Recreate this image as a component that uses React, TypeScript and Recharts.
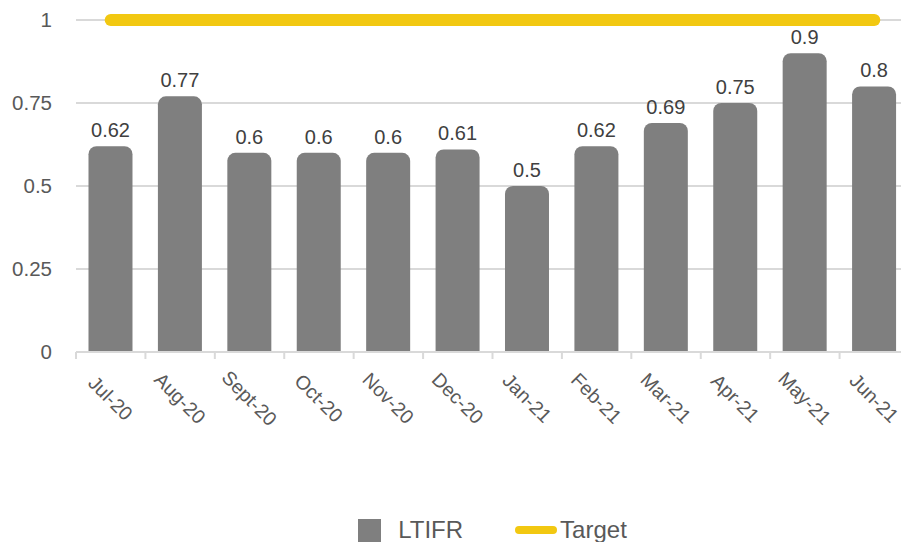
import { ComposedChart, Bar, Line, XAxis, YAxis, CartesianGrid, Legend, LabelList } from 'recharts';

const months = ['Jul-20', 'Aug-20', 'Sept-20', 'Oct-20', 'Nov-20', 'Dec-20', 'Jan-21', 'Feb-21', 'Mar-21', 'Apr-21', 'May-21', 'Jun-21'];
const ltifr = [0.62, 0.77, 0.6, 0.6, 0.6, 0.61, 0.5, 0.62, 0.69, 0.75, 0.9, 0.8];
const target = [1, 1, 1, 1, 1, 1, 1, 1, 1, 1, 1, 1];
const yTicks = [0, 0.25, 0.5, 0.75, 1];

const data = months.map((m, i) => ({ month: m, LTIFR: ltifr[i], Target: target[i] }));

const FONT = '"Liberation Sans", Arial, sans-serif';
const CHART_W = 920;
const LEFT = 76;
const RIGHT = 11;
const HALF_BAND = (CHART_W - LEFT - RIGHT) / months.length / 2;

const XTick = (props: any) => {
    const { x, y, payload, index } = props;
    return (
        <g>
            <line x1={x - HALF_BAND} y1={y} x2={x - HALF_BAND} y2={y + 7} stroke="#d9d9d9" strokeWidth={2} />
            {index === months.length - 1 && (
                <line x1={x + HALF_BAND} y1={y} x2={x + HALF_BAND} y2={y + 7} stroke="#d9d9d9" strokeWidth={2} />
            )}
            <text
                transform={`translate(${x},${y + 46}) rotate(45)`}
                textAnchor="middle"
                dominantBaseline="central"
                fill="#595959"
                fontSize={19.5}
                fontFamily={FONT}
            >
                {payload.value}
            </text>
        </g>
    );
};

const LegendContent = () => (
    <div
        style={{
            display: 'flex',
            justifyContent: 'center',
            alignItems: 'center',
            paddingLeft: 76,
            paddingTop: 34,
            fontFamily: FONT,
            fontSize: 24,
            color: '#595959',
        }}
    >
        <span style={{ width: 23, height: 23, background: '#7f7f7f', display: 'inline-block', marginRight: 17 }} />
        <span style={{ marginRight: 52 }}>LTIFR</span>
        <span style={{ width: 42, height: 8, borderRadius: 4, background: '#f2c811', display: 'inline-block', marginRight: 3 }} />
        <span>Target</span>
    </div>
);

const App = () => {
    return (
        <div style={{ position: 'fixed', top: 0, left: 0, width: 901, height: 542, overflow: 'hidden', background: '#fff' }}>
            <ComposedChart
                width={CHART_W}
                height={542}
                data={data}
                barCategoryGap="18%"
                margin={{ top: 20, right: RIGHT, left: 0, bottom: 0 }}
            >
                <CartesianGrid vertical={false} stroke="#d9d9d9" strokeWidth={2} />
                <XAxis
                    dataKey="month"
                    height={130}
                    tickLine={false}
                    tickSize={0}
                    tickMargin={0}
                    axisLine={{ stroke: '#d9d9d9', strokeWidth: 2 }}
                    interval={0}
                    tick={<XTick />}
                />
                <YAxis
                    width={LEFT}
                    domain={[0, 1]}
                    ticks={yTicks}
                    axisLine={false}
                    tickLine={false}
                    tickMargin={18}
                    tick={{ fill: '#595959', fontSize: 20.5, fontFamily: FONT }}
                />
                <Legend verticalAlign="bottom" height={60} content={<LegendContent />} />
                <Bar dataKey="LTIFR" fill="#7f7f7f" radius={[8, 8, 0, 0]} isAnimationActive={false}>
                    <LabelList
                        dataKey="LTIFR"
                        position="top"
                        offset={9}
                        fill="#404040"
                        fontSize={20}
                        fontFamily={FONT}
                    />
                </Bar>
                <Line
                    dataKey="Target"
                    stroke="#f2c811"
                    strokeWidth={12}
                    strokeLinecap="round"
                    dot={false}
                    activeDot={false}
                    isAnimationActive={false}
                />
            </ComposedChart>
        </div>
    );
};

export default App;
